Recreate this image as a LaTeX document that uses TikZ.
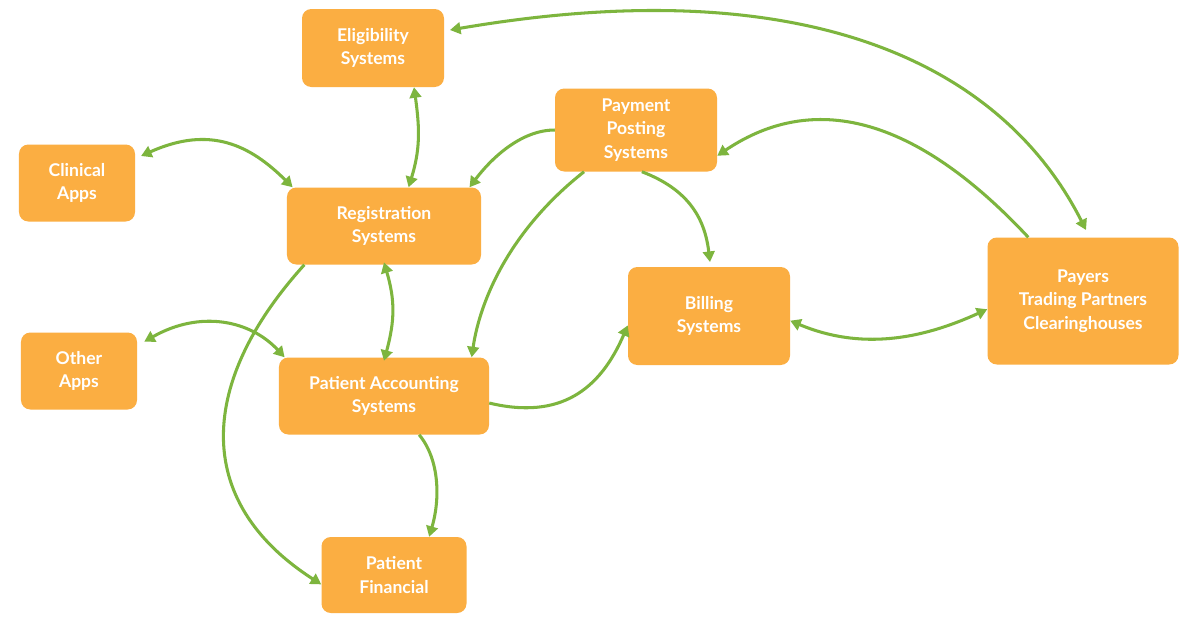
\documentclass[tikz,border=0pt]{standalone}
\usepackage{fontspec}
\setmainfont{Lato}
\usetikzlibrary{arrows.meta}
\definecolor{boxorange}{HTML}{FBAE42}
\definecolor{arrowgreen}{HTML}{7DB53E}
\tikzset{
  sys/.style={fill=boxorange,rounded corners=8pt,text=white,align=center,
    font=\bfseries\fontsize{15}{20}\selectfont,inner sep=0pt},
  link/.style={draw=arrowgreen,line width=2.6pt,-{Triangle[length=9pt,width=10pt]}},
  dlink/.style={link,{Triangle[length=9pt,width=10pt]}-{Triangle[length=9pt,width=10pt]}}
}
\begin{document}
\begin{tikzpicture}[x=0.03cm,y=-0.03cm]
\useasboundingbox[fill=white] (0,0) rectangle (1200,630);
% boxes
\node[sys,minimum width=4.26cm,minimum height=2.34cm] (elig) at (373,48) {Eligibility\\Systems};
\node[sys,minimum width=3.48cm,minimum height=2.31cm] (clin) at (77,183) {Clinical\\Apps};
\node[sys,minimum width=5.82cm,minimum height=2.31cm] (reg) at (384,226) {Registration\\Systems};
\node[sys,minimum width=4.86cm,minimum height=2.49cm] (pay) at (636,130) {Payment\\Posting\\Systems};
\node[sys,minimum width=4.86cm,minimum height=2.94cm] (bill) at (709,316) {Billing\\Systems};
\node[sys,minimum width=5.73cm,minimum height=3.81cm] (payer) at (1083,301) {Payers\\Trading Partners\\Clearinghouses};
\node[sys,minimum width=3.48cm,minimum height=2.31cm] (other) at (79,371) {Other\\Apps};
\node[sys,minimum width=6.30cm,minimum height=2.31cm] (acct) at (384,396) {Patient Accounting\\Systems};
\node[sys,minimum width=4.35cm,minimum height=2.28cm] (fin) at (394,575) {Patient\\Financial};
% connectors
\coordinate (eligR) at (450,30);
\coordinate (payerT) at (1086,230);
\draw[dlink] (eligR) .. controls (800,-30) and (1000,60) .. (payerT);
\draw[link] ([xshift=35pt]payer.north west) .. controls (900,100) and (800,100) .. ([yshift=-22pt]pay.east);
\draw[dlink] ([yshift=-4pt]bill.east) .. controls (860,350) and (920,340) .. ([yshift=-7pt]payer.west);
\draw[link] ([xshift=5pt]pay.south) .. controls (690,190) and (705,220) .. (710,262);
\draw[link] ([yshift=0pt]pay.west) .. controls (520,130) and (490,160) .. ([xshift=-10pt]reg.north east);
\draw[link] ([xshift=25pt]pay.south west) .. controls (510,230) and (480,300) .. ([xshift=-15pt]acct.north east);
\draw[dlink] ([xshift=35pt]elig.south) .. controls (420,130) and (420,150) .. ([xshift=21pt]reg.north);
\draw[dlink] ([xshift=5pt,yshift=-10pt]clin.north east) .. controls (210,125) and (250,145) .. ([xshift=5pt]reg.north west);
\draw[dlink] ([yshift=2pt]reg.south) .. controls (395,300) and (395,320) .. ([yshift=-3pt]acct.north);
\draw[dlink] ([xshift=6pt,yshift=-8pt]other.north east) .. controls (200,310) and (250,320) .. ([xshift=5pt]acct.north west);
\draw[link] ([xshift=15pt]reg.south west) .. controls (200,380) and (190,500) .. ([yshift=-8pt]fin.west);
\draw[link] ([xshift=30pt]acct.south) .. controls (440,460) and (440,500) .. ([xshift=30pt]fin.north);
\draw[link] ([yshift=-6pt]acct.east) .. controls (560,420) and (600,390) .. ([yshift=-8pt]bill.west);
\end{tikzpicture}
\end{document}
